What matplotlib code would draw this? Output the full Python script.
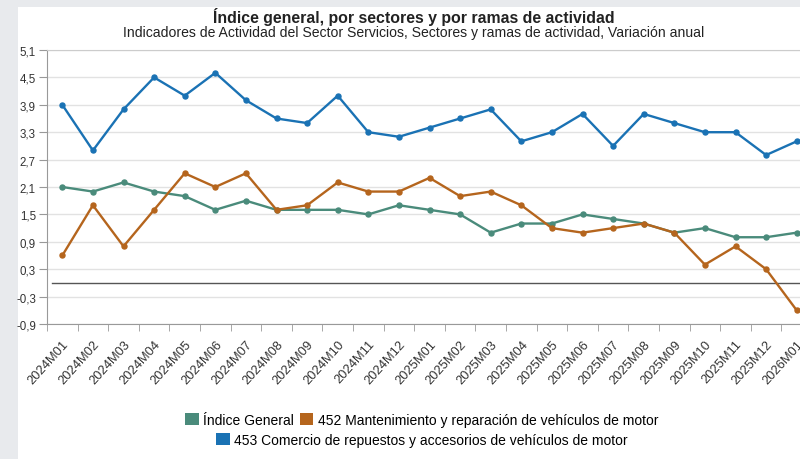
import numpy as np
import matplotlib.pyplot as plt
from matplotlib.patches import Rectangle, Patch

plt.rcParams["font.family"] = ["Liberation Sans", "DejaVu Sans"]

months = [
    "2024M01", "2024M02", "2024M03", "2024M04", "2024M05", "2024M06",
    "2024M07", "2024M08", "2024M09", "2024M10", "2024M11", "2024M12",
    "2025M01", "2025M02", "2025M03", "2025M04", "2025M05", "2025M06",
    "2025M07", "2025M08", "2025M09", "2025M10", "2025M11", "2025M12",
    "2026M01",
]
indice_general = [2.1, 2.0, 2.2, 2.0, 1.9, 1.6, 1.8, 1.6, 1.6, 1.6, 1.5, 1.7,
                  1.6, 1.5, 1.1, 1.3, 1.3, 1.5, 1.4, 1.3, 1.1, 1.2, 1.0, 1.0, 1.1]
mant_452 = [0.6, 1.7, 0.8, 1.6, 2.4, 2.1, 2.4, 1.6, 1.7, 2.2, 2.0, 2.0,
            2.3, 1.9, 2.0, 1.7, 1.2, 1.1, 1.2, 1.3, 1.1, 0.4, 0.8, 0.3, -0.6]
comercio_453 = [3.9, 2.9, 3.8, 4.5, 4.1, 4.6, 4.0, 3.6, 3.5, 4.1, 3.3, 3.2,
                3.4, 3.6, 3.8, 3.1, 3.3, 3.7, 3.0, 3.7, 3.5, 3.3, 3.3, 2.8, 3.1]

yticks = [-0.9, -0.3, 0.3, 0.9, 1.5, 2.1, 2.7, 3.3, 3.9, 4.5, 5.1]
ytick_labels = ["-0,9", "-0,3", "0,3", "0,9", "1,5", "2,1", "2,7", "3,3", "3,9", "4,5", "5,1"]

series = [
    ("Índice General", indice_general, "#4a8b7b"),
    ("452 Mantenimiento y reparación de vehículos de motor", mant_452, "#b5651d"),
    ("453 Comercio de repuestos y accesorios de vehículos de motor", comercio_453, "#1a72b4"),
]

fig = plt.figure(figsize=(8, 4.6), dpi=100, facecolor="#e8eaed")
fig.patches.append(Rectangle((18 / 800, 0), 1, 452 / 460, transform=fig.transFigure,
                             facecolor="white", edgecolor="none", zorder=-5))

ax = fig.add_axes([47 / 800, 135 / 460, 765 / 800, 274 / 460])
ax.set_facecolor("white")

x = np.arange(len(months))
for name, vals, color in series:
    ax.plot(x, vals, color=color, lw=1.7, marker="o", ms=3.6, label=name, zorder=3)

ax.axhline(0, xmin=5 / 765, color="#555555", lw=1, zorder=2)

ax.set_xlim(-0.5, len(months) - 0.5)
ax.set_ylim(-0.9, 5.1)
ax.set_yticks(yticks)
ax.set_yticklabels(ytick_labels, fontsize=8.3, color="#333333")
ax.yaxis.grid(True, color="#e2e2e2", lw=1)
ax.set_axisbelow(True)

ax.set_xticks(x)
ax.set_xticklabels(months, rotation=48, ha="right", va="top", fontsize=9.3,
                   color="#333333", rotation_mode="anchor")
ax.set_xticks(np.arange(-0.5, len(months)), minor=True)
ax.tick_params(axis="x", which="major", length=0, pad=10)
ax.tick_params(axis="x", which="minor", length=5, color="#999999")
ax.tick_params(axis="y", length=6, color="#999999", pad=2)

for s in ["left", "bottom"]:
    ax.spines[s].set_color("#999999")
ax.spines["top"].set_color("#cccccc")
ax.spines["right"].set_visible(False)

fig.text(0.5175, 1 - 17 / 460, "Índice general, por sectores y por ramas de actividad",
         ha="center", va="center", fontsize=11.4, fontweight="bold", color="#222222")
fig.text(0.5175, 1 - 33 / 460,
         "Indicadores de Actividad del Sector Servicios, Sectores y ramas de actividad, Variación anual",
         ha="center", va="center", fontsize=10.1, color="#222222")

h = [Patch(facecolor=c, edgecolor="none") for _, _, c in series]
labels = [n for n, _, _ in series]
fig.legend(h[:2], labels[:2], loc="center", bbox_to_anchor=(0.527, 1 - 421 / 460),
           ncol=2, frameon=False, fontsize=10, handlelength=1.0, handleheight=1.0,
           handletextpad=0.3, columnspacing=0.4)
fig.legend(h[2:], labels[2:], loc="center", bbox_to_anchor=(0.527, 1 - 441 / 460),
           frameon=False, fontsize=10, handlelength=1.0, handleheight=1.0,
           handletextpad=0.3)

fig.savefig("out.png", dpi=100, facecolor=fig.get_facecolor())
